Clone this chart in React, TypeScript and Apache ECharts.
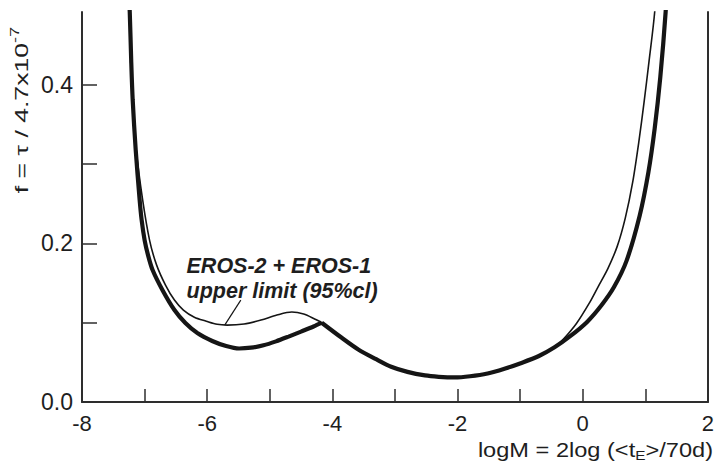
import React, { useEffect, useRef } from "react";
import * as echarts from "echarts";

// ---- data ----
const xMin = -8;
const xMax = 2;
const yMin = 0;
const yMax = 0.492;
const xLabelValues = [-8, -6, -4, -2, 0, 2];
const yTickValues = [0, 0.1, 0.2, 0.3, 0.4];
const yLabelValues = [0, 0.2, 0.4];

// thick curve, left branch down to the dip and up to the kink
const thickLeft: [number, number][] = [
  [-7.26, 0.53], [-7.237, 0.492], [-7.214, 0.431], [-7.19, 0.381], [-7.142, 0.318],
  [-7.079, 0.255], [-7.047, 0.2295], [-6.999, 0.204], [-6.944, 0.185], [-6.872, 0.1665],
  [-6.713, 0.141], [-6.523, 0.116], [-6.348, 0.0996], [-6.157, 0.087], [-5.919, 0.077],
  [-5.697, 0.0706], [-5.49, 0.0675], [-5.3, 0.0685], [-5.1, 0.0715], [-4.9, 0.0765],
  [-4.7, 0.0825], [-4.5, 0.0888], [-4.3, 0.0952], [-4.17, 0.1],
];
// part shared by both curves (kink, valley, start of the right rise)
const shared: [number, number][] = [
  [-4.17, 0.1], [-3.85, 0.081], [-3.58, 0.066], [-3.3, 0.054], [-3.06, 0.0445],
  [-2.8, 0.038], [-2.52, 0.0335], [-2.3, 0.0318], [-2.05, 0.031], [-1.8, 0.0325],
  [-1.52, 0.036], [-1.25, 0.042], [-0.99, 0.049], [-0.7, 0.058], [-0.45, 0.069],
];
const thickRight: [number, number][] = [
  [-0.2, 0.083], [0.07, 0.101], [0.3, 0.122], [0.5, 0.145], [0.7, 0.178],
  [0.91, 0.235], [1.05, 0.29], [1.15, 0.345], [1.24, 0.41], [1.325, 0.492], [1.345, 0.53],
];
// thin curve (the one the annotation points at)
const thinLeft: [number, number][] = [
  [-7.26, 0.53], [-7.237, 0.492], [-7.19, 0.381], [-7.134, 0.318], [-7.031, 0.255],
  [-6.92, 0.204], [-6.809, 0.173], [-6.666, 0.1475], [-6.523, 0.1286], [-6.38, 0.116],
  [-6.205, 0.107], [-6.014, 0.102], [-5.84, 0.098], [-5.68, 0.097], [-5.41, 0.0984],
  [-5.14, 0.1034], [-4.886, 0.1097], [-4.648, 0.1135], [-4.458, 0.111], [-4.283, 0.1047],
];
const thinRight: [number, number][] = [
  [-0.3, 0.08], [-0.1, 0.099], [0.1, 0.124], [0.25, 0.146], [0.4, 0.168],
  [0.55, 0.196], [0.68, 0.232], [0.8, 0.278], [0.9, 0.33], [0.98, 0.378],
  [1.06, 0.43], [1.15, 0.492], [1.17, 0.53],
];

// annotation anchors in data coordinates
const annotationTextAt: [number, number] = [-6.33, 0.1564];
const leaderFrom: [number, number] = [-5.463, 0.1286];
const leaderTo: [number, number] = [-5.72, 0.097];

const FONT = "'Liberation Sans', Arial, Helvetica, sans-serif";
const INK = "#151515";
const AXIS = "#2e2e2e";
const TEXT = "#1e1e1e";

export default function App() {
  const ref = useRef<HTMLDivElement>(null);

  useEffect(() => {
    document.body.style.margin = "0";
    const chart = echarts.init(ref.current!, null, { renderer: "svg" });

    const lineStyleThick = { color: INK, width: 4.2 };
    const lineStyleThin = { color: INK, width: 1.6 };

    chart.setOption({
      animation: false,
      backgroundColor: "#ffffff",
      grid: { left: 82, right: 5, top: 12, bottom: 63, containLabel: false },
      xAxis: {
        type: "value",
        min: xMin,
        max: xMax,
        interval: 1,
        axisLine: { show: true, onZero: false, lineStyle: { color: AXIS, width: 2 } },
        axisTick: { show: true, inside: true, length: 13, lineStyle: { color: AXIS, width: 1.5 } },
        axisLabel: {
          customValues: xLabelValues,
          formatter: (v: number) => String(v),
          fontSize: 22,
          fontFamily: FONT,
          color: TEXT,
          margin: 10,
        },
        splitLine: { show: false },
      },
      yAxis: [
        {
          type: "value",
          min: yMin,
          max: yMax,
          interval: 0.1,
          axisLine: { show: true, onZero: false, lineStyle: { color: AXIS, width: 2 } },
          axisTick: {
            show: true,
            inside: true,
            length: 15,
            customValues: yTickValues,
            lineStyle: { color: AXIS, width: 1.5 },
          },
          axisLabel: {
            customValues: yLabelValues,
            formatter: (v: number) => v.toFixed(1),
            fontSize: 23,
            fontFamily: FONT,
            color: TEXT,
            margin: 9,
          },
          splitLine: { show: false },
        },
        {
          type: "value",
          position: "right",
          min: yMin,
          max: yMax,
          axisLine: { show: true, onZero: false, lineStyle: { color: AXIS, width: 2 } },
          axisTick: { show: false },
          axisLabel: { show: false },
          splitLine: { show: false },
        },
      ],
      series: [
        {
          name: "thin",
          type: "line",
          data: [...thinLeft, ...shared, ...thinRight],
          smooth: 0.3,
          showSymbol: false,
          lineStyle: lineStyleThin,
          clip: true,
          z: 2,
        },
        {
          name: "thick-left",
          type: "line",
          data: thickLeft,
          smooth: 0.3,
          showSymbol: false,
          lineStyle: lineStyleThick,
          clip: true,
          z: 3,
        },
        {
          name: "thick-right",
          type: "line",
          data: [...shared, ...thickRight],
          smooth: 0.3,
          showSymbol: false,
          lineStyle: lineStyleThick,
          clip: true,
          z: 3,
        },
      ],
    });

    const tp = chart.convertToPixel({ gridIndex: 0 }, annotationTextAt) as number[];
    const lf = chart.convertToPixel({ gridIndex: 0 }, leaderFrom) as number[];
    const lt = chart.convertToPixel({ gridIndex: 0 }, leaderTo) as number[];

    chart.setOption({
      graphic: [
        {
          type: "text",
          x: 21,
          y: 110,
          rotation: Math.PI / 2,
          scaleX: 1.4,
          style: {
            text: "{m|f = τ / 4.7x10}{s|-7}",
            align: "center",
            verticalAlign: "middle",
            fill: TEXT,
            rich: {
              m: { fontSize: 19, fontFamily: FONT, fill: TEXT, lineHeight: 26 },
              s: { fontSize: 13, fontFamily: FONT, fill: TEXT, lineHeight: 13, verticalAlign: "top" },
            },
          },
        },
        {
          type: "text",
          x: 713,
          y: 450,
          scaleX: 1.18,
          style: {
            text: "{m|logM = 2log (<t}{s|E}{m|>/70d)}",
            align: "right",
            verticalAlign: "middle",
            fill: TEXT,
            rich: {
              m: { fontSize: 20, fontFamily: FONT, fill: TEXT, lineHeight: 24 },
              s: { fontSize: 13, fontFamily: FONT, fill: TEXT, lineHeight: 13, verticalAlign: "bottom" },
            },
          },
        },
        {
          type: "text",
          x: tp[0],
          y: tp[1],
          style: {
            text: "EROS-2 + EROS-1\nupper limit (95%cl)",
            align: "left",
            verticalAlign: "middle",
            fontSize: 21.5,
            fontWeight: "bold",
            fontStyle: "italic",
            fontFamily: FONT,
            lineHeight: 25,
            fill: TEXT,
          },
        },
        {
          type: "line",
          shape: { x1: lf[0], y1: lf[1], x2: lt[0], y2: lt[1] },
          style: { stroke: INK, lineWidth: 1.2 },
        },
      ],
    });

    return () => chart.dispose();
  }, []);

  return <div ref={ref} style={{ width: 717, height: 465 }} />;
}
